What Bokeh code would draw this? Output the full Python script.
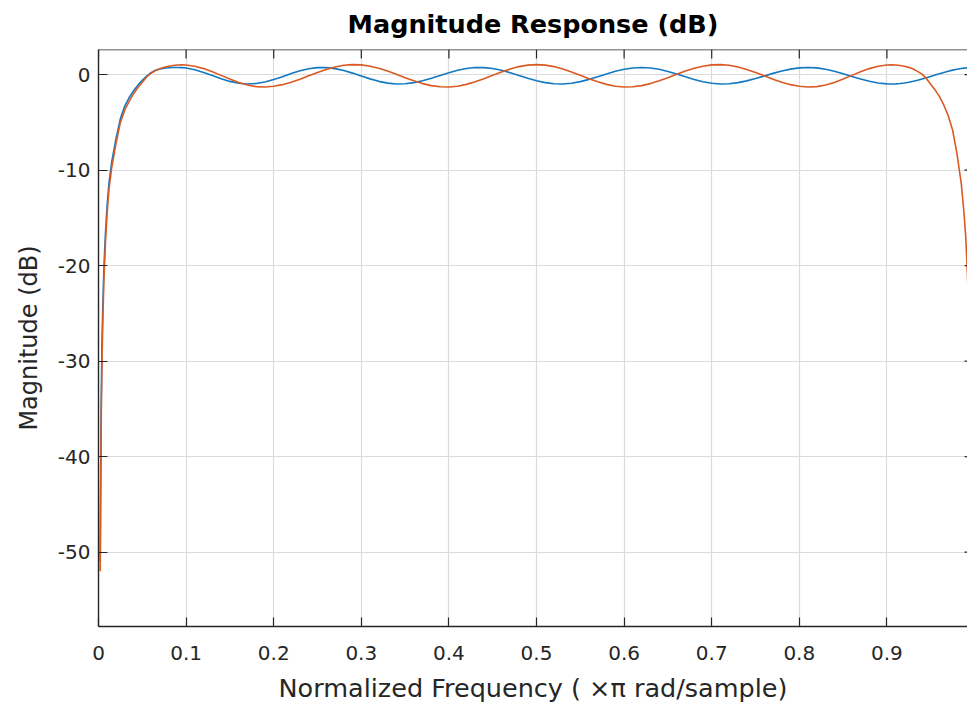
import math
from bokeh.plotting import figure
from bokeh.models import Range1d, FixedTicker, Span
from bokeh.embed import file_html
from bokeh.resources import INLINE

# Normalized frequency (x pi rad/sample)
freq = [0.00195, 0.0025, 0.003, 0.004, 0.005, 0.006, 0.007, 0.008, 0.010, 0.012,
        0.015, 0.020, 0.025, 0.030, 0.035, 0.040, 0.045, 0.050, 0.055, 0.060,
        0.065, 0.070, 0.075, 0.080, 0.085, 0.090, 0.095,
        0.10, 0.11, 0.12, 0.13, 0.14, 0.15, 0.16, 0.17, 0.18, 0.19,
        0.20, 0.21, 0.22, 0.23, 0.24, 0.25, 0.26, 0.27, 0.28, 0.29,
        0.30, 0.31, 0.32, 0.33, 0.34, 0.35, 0.36, 0.37, 0.38, 0.39,
        0.40, 0.41, 0.42, 0.43, 0.44, 0.45, 0.46, 0.47, 0.48, 0.49,
        0.50, 0.51, 0.52, 0.53, 0.54, 0.55, 0.56, 0.57, 0.58, 0.59,
        0.60, 0.61, 0.62, 0.63, 0.64, 0.65, 0.66, 0.67, 0.68, 0.69,
        0.70, 0.71, 0.72, 0.73, 0.74, 0.75, 0.76, 0.77, 0.78, 0.79,
        0.80, 0.81, 0.82, 0.83, 0.84, 0.85, 0.86, 0.87, 0.88, 0.89,
        0.90, 0.905, 0.91, 0.915, 0.92, 0.925, 0.93, 0.935, 0.94, 0.945,
        0.95, 0.955, 0.96, 0.965, 0.97, 0.975, 0.98, 0.985, 0.988, 0.990,
        0.992, 0.994, 0.996, 0.998]

# Magnitude (dB), filter 1 (blue)
mag_blue = [-51.0, -42.0, -35.0, -28.0, -24.0, -20.8, -18.5, -16.5, -13.5, -11.3,
            -9.2, -6.7, -4.6, -3.3, -2.4, -1.7, -1.1, -0.6, -0.15, 0.2,
            0.45, 0.6, 0.66, 0.72, 0.75, 0.75, 0.73,
            0.686, 0.503, 0.228, -0.098, -0.426, -0.709, -0.902, -0.979, -0.932, -0.771,
            -0.519, -0.212, 0.109, 0.398, 0.618, 0.734, 0.736, 0.629, 0.428, 0.158,
            -0.145, -0.445, -0.704, -0.887, -0.975, -0.956, -0.838, -0.637, -0.376, -0.086,
            0.202, 0.452, 0.638, 0.738, 0.737, 0.639, 0.453, 0.203, -0.086, -0.376,
            -0.637, -0.837, -0.956, -0.976, -0.898, -0.732, -0.496, -0.217, 0.074, 0.343,
            0.561, 0.701, 0.75, 0.70, 0.556, 0.334, 0.061, -0.233, -0.513, -0.746,
            -0.908, -0.978, -0.951, -0.840, -0.654, -0.413, -0.143, 0.131, 0.380, 0.578,
            0.707, 0.75, 0.703, 0.568, 0.358, 0.097, -0.186, -0.462, -0.701, -0.875,
            -0.968, -0.98, -0.968, -0.93, -0.875, -0.80, -0.701, -0.59, -0.462, -0.33,
            -0.186, -0.045, 0.097, 0.23, 0.358, 0.47, 0.568, 0.645, 0.68, 0.70,
            0.715, 0.728, 0.74, 0.745]

# Magnitude (dB), filter 2 (orange)
mag_orange = [-52.0, -44.0, -37.0, -30.0, -25.5, -22.0, -19.6, -17.5, -14.3, -12.0,
              -9.8, -7.2, -5.0, -3.7, -2.8, -2.0, -1.35, -0.8, -0.25, 0.15,
              0.42, 0.62, 0.77, 0.88, 0.96, 1.0, 1.02,
              1.00, 0.87, 0.63, 0.30, -0.08, -0.47, -0.82, -1.09, -1.26, -1.30,
              -1.22, -1.05, -0.79, -0.475, -0.125, 0.225, 0.54, 0.80, 0.975, 1.05,
              1.02, 0.88, 0.66, 0.37, 0.03, -0.32, -0.65, -0.94, -1.15, -1.27,
              -1.295, -1.21, -1.02, -0.755, -0.43, -0.07, 0.28, 0.59, 0.84, 0.995,
              1.05, 0.995, 0.84, 0.59, 0.28, -0.07, -0.43, -0.755, -1.02, -1.21,
              -1.295, -1.27, -1.15, -0.94, -0.65, -0.32, 0.03, 0.37, 0.66, 0.88,
              1.02, 1.05, 0.975, 0.80, 0.54, 0.225, -0.125, -0.475, -0.79, -1.05,
              -1.22, -1.30, -1.26, -1.09, -0.82, -0.47, -0.08, 0.30, 0.63, 0.87,
              1.00, 1.02, 1.0, 0.96, 0.88, 0.76, 0.58, 0.34, 0.05, -0.4,
              -1.0, -1.6, -2.3, -3.2, -4.3, -5.8, -8.3, -11.5, -14.5, -17.0,
              -21.0, -27.0, -35.0, -52.0]

x_ticks = [0, 0.1, 0.2, 0.3, 0.4, 0.5, 0.6, 0.7, 0.8, 0.9]
x_tick_labels = ["0", "0.1", "0.2", "0.3", "0.4", "0.5", "0.6", "0.7", "0.8", "0.9"]
y_ticks = [-50, -40, -30, -20, -10, 0]
y_tick_labels = ["-50", "-40", "-30", "-20", "-10", "0"]

TITLE = "Magnitude Response (dB)"
X_LABEL = "Normalized Frequency ( ×π rad/sample)"
Y_LABEL = "Magnitude (dB)"

X_MIN, X_MAX = 0, 0.992
Y_MIN, Y_MAX = -57.78, 2.63

FONT = "DejaVu Sans"
AX = "#262626"

p = figure(width=967, height=705, output_backend="svg", toolbar_location=None,
           x_range=Range1d(X_MIN, X_MAX), y_range=Range1d(Y_MIN, Y_MAX),
           min_border_left=98, min_border_right=0, min_border_top=49,
           min_border_bottom=76, background_fill_color="white",
           border_fill_color="white", outline_line_color=None,
           title=TITLE)

p.title.align = "center"
p.title.vertical_align = "top"
p.title.standoff = 17
p.title.text_font = FONT
p.title.text_font_size = "25.5px"
p.title.text_font_style = "bold"
p.title.text_color = "#000000"

for g, ticks in ((p.xgrid[0], x_ticks), (p.ygrid[0], y_ticks)):
    g.ticker = FixedTicker(ticks=ticks)
    g.grid_line_color = "#dcdcdc"
    g.grid_line_width = 1.2

p.line(freq, mag_blue, line_color="#1278C2", line_width=1.6)
p.line(freq, mag_orange, line_color="#DA5A22", line_width=1.6)

for ax, ticks, labels in ((p.xaxis[0], x_ticks, x_tick_labels), (p.yaxis[0], y_ticks, y_tick_labels)):
    ax.ticker = FixedTicker(ticks=ticks)
    ax.major_label_overrides = {t: l for t, l in zip(ticks, labels)}
    ax.minor_tick_line_color = None
    ax.major_tick_in = 9
    ax.major_tick_out = 0
    ax.axis_line_color = AX
    ax.axis_line_width = 1.4
    ax.major_tick_line_color = AX
    ax.major_tick_line_width = 1.2
    ax.major_label_text_font = FONT
    ax.major_label_text_font_size = "20px"
    ax.major_label_text_color = AX
    ax.axis_label_text_font = FONT
    ax.axis_label_text_font_size = "24px"
    ax.axis_label_text_font_style = "normal"
    ax.axis_label_text_color = AX

p.xaxis.axis_label = X_LABEL
p.xaxis.axis_label_text_font_size = "25.5px"
p.yaxis.axis_label = Y_LABEL
p.xaxis.major_label_standoff = 19
p.xaxis.axis_label_standoff = 10
p.yaxis.major_label_standoff = 8
p.yaxis.axis_label_standoff = 12

# top box edge with inward ticks, and right-edge tick stubs (box on)
p.add_layout(Span(location=Y_MAX, dimension="width", line_color=AX, line_width=1.4))
p.ray(x=x_ticks, y=[Y_MAX] * len(x_ticks), length=9, length_units="screen",
      angle=-math.pi / 2, line_color=AX, line_width=1.2)
p.ray(x=[X_MAX] * len(y_ticks), y=y_ticks, length=3, length_units="screen",
      angle=math.pi, line_color=AX, line_width=1.2)

open("out.html", "w").write(file_html(p, INLINE))
